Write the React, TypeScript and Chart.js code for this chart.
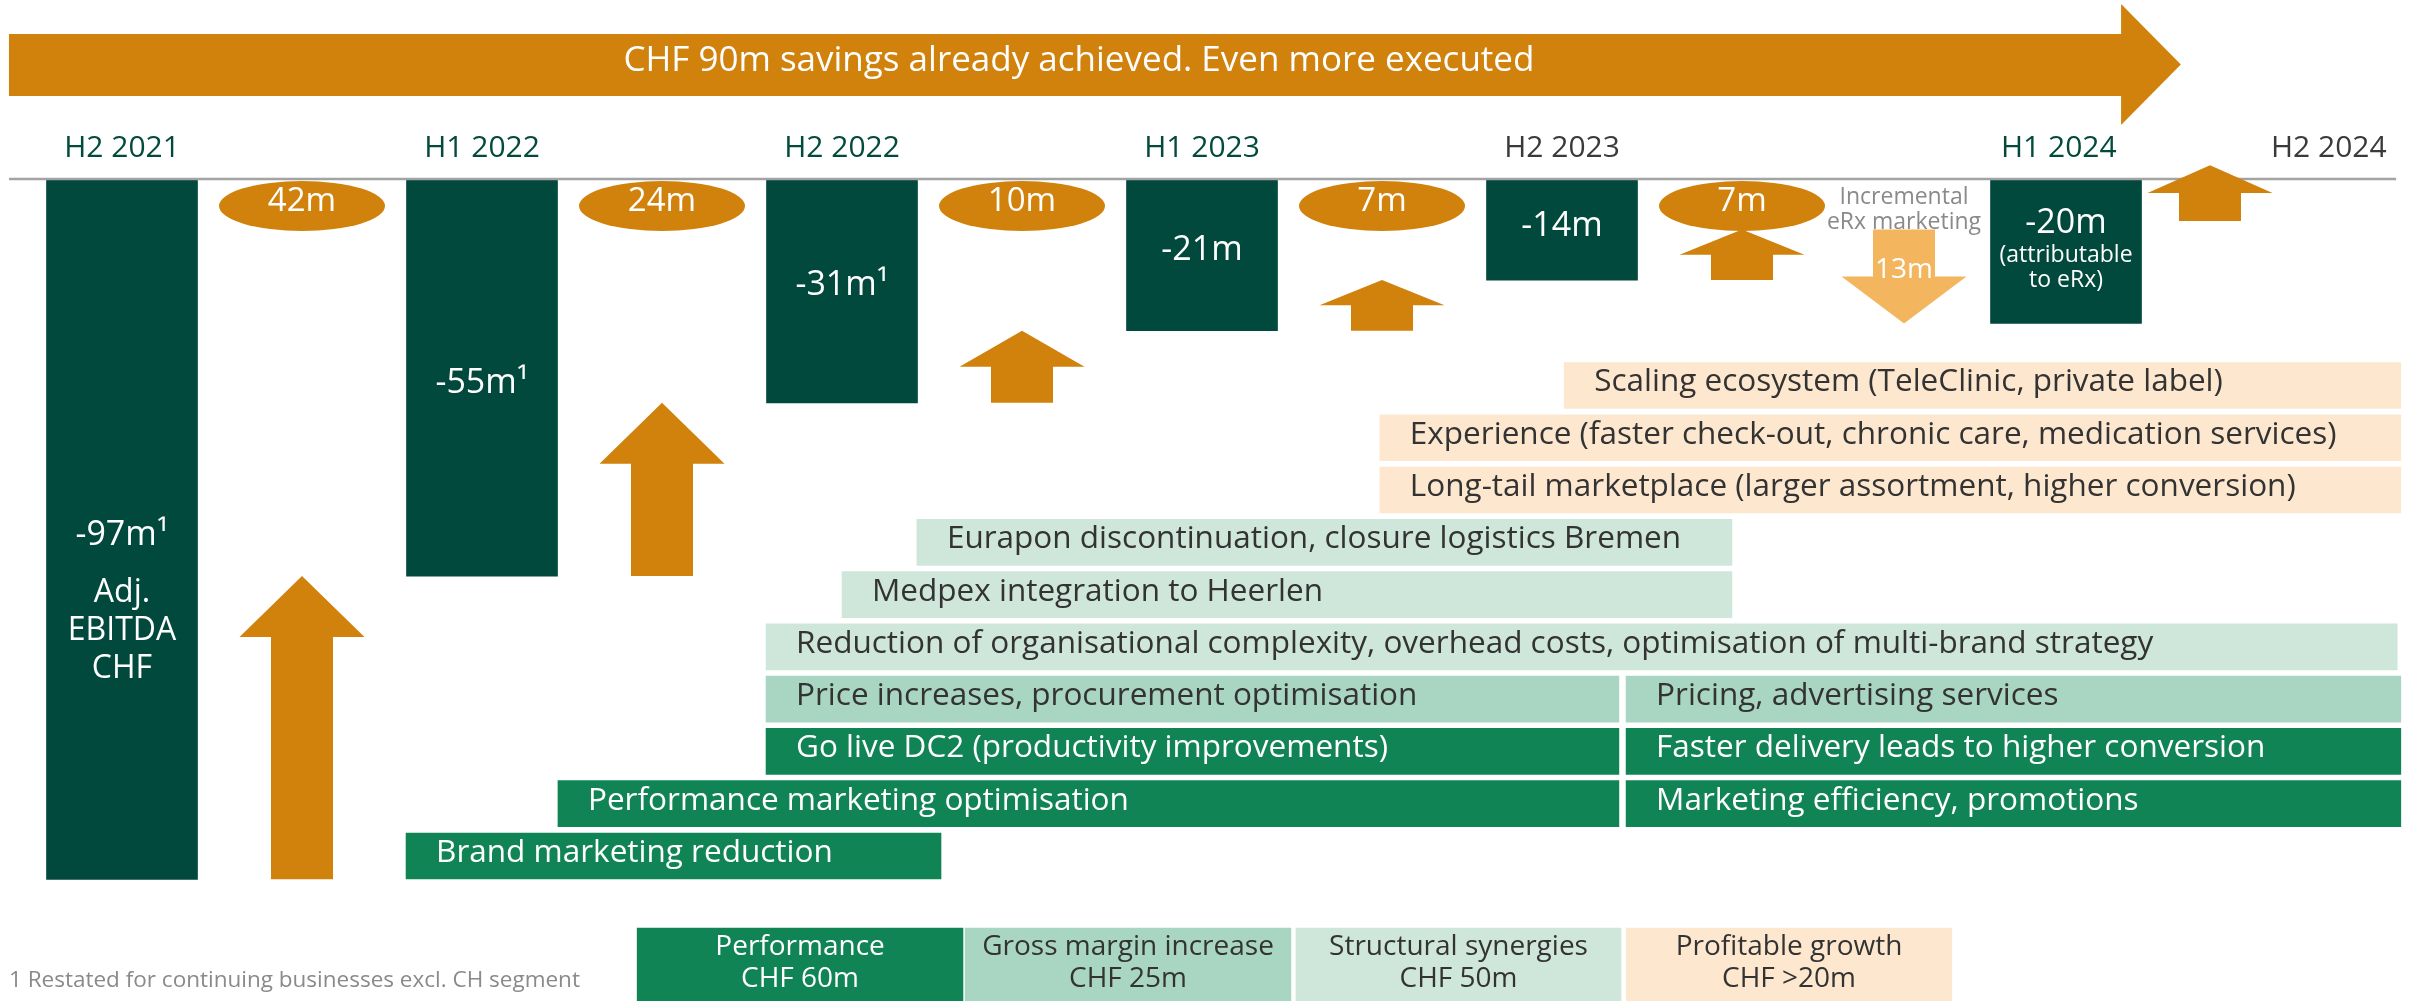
import React, { useEffect, useRef } from "react";
import { Chart, registerables } from "chart.js";

Chart.register(...registerables);

// ---------------- data ----------------
const periods = ["H2 2021", "H1 2022", "H2 2022", "H1 2023", "H2 2023", "H1 2024", "H2 2024"];
const periodPos = [0, 1, 2, 3, 4, 5.38, 6.13];
const periodTone = ["green", "green", "green", "green", "grey", "green", "grey"];

const ebitdaPos = [0, 1, 2, 3, 4, 5.4];
const ebitda = [-97, -55, -31, -21, -14, -20];
const ebitdaLabels = ["-97m\u00B9", "-55m\u00B9", "-31m\u00B9", "-21m", "-14m", "-20m"];
const ebitdaNotes = [["Adj.", "EBITDA", "CHF"], [], [], [], [], ["(attributable", "to eRx)"]];

const savingsPos = [0.5, 1.5, 2.5, 3.5, 4.5];
const savings = [42, 24, 10, 7, 7];
const savingsLabels = ["42m", "24m", "10m", "7m", "7m"];

const erxPos = 4.95;
const erxMarketing = 13;
const erxLabel = "13m";
const erxNote = ["Incremental", "eRx marketing"];

const outlookPos = 5.8;
const outlookRange = [-5.8, 1.9];

const initiativeLabels = [
  "Brand marketing reduction",
  "Performance marketing optimisation",
  "Marketing efficiency, promotions",
  "Go live DC2 (productivity improvements)",
  "Faster delivery leads to higher conversion",
  "Price increases, procurement optimisation",
  "Pricing, advertising services",
  "Reduction of organisational complexity, overhead costs, optimisation of multi-brand strategy",
  "Medpex integration to Heerlen",
  "Eurapon discontinuation, closure logistics Bremen",
  "Long-tail marketplace (larger assortment, higher conversion)",
  "Experience (faster check-out, chronic care, medication services)",
  "Scaling ecosystem (TeleClinic, private label)",
];
const initiativeStart = [0.789, 1.211, 4.178, 1.789, 4.178, 1.789, 4.178, 1.789, 2.0, 2.208, 3.494, 3.494, 4.006];
const initiativeEnd = [2.275, 4.158, 6.33, 4.158, 6.33, 4.158, 6.33, 6.32, 4.472, 4.472, 6.33, 6.33, 6.33];
const initiativeLane = [0, 1, 1, 2, 2, 3, 3, 4, 5, 6, 7, 8, 9];
const initiativeGroup = [0, 0, 0, 0, 0, 1, 1, 2, 2, 2, 3, 3, 3];

const groupNames = ["Performance", "Gross margin increase", "Structural synergies", "Profitable growth"];
const groupValues = ["CHF 60m", "CHF 25m", "CHF 50m", "CHF >20m"];
const groupStart = [1.431, 2.342, 3.261, 4.178];
const groupEnd = [2.336, 3.247, 4.164, 5.083];
const legendLane = -2.075;

const title = "CHF 90m savings already achieved. Even more executed";
const footnote = "1 Restated for continuing businesses excl. CH segment";

// ---------------- style ----------------
const FONT = "'Open Sans', 'DejaVu Sans', sans-serif";
const font = (size: number, weight: string | number = "normal") => `${weight} ${size}px ${FONT}`;

const C = {
  ebitda: "#02493D",
  saving: "#D0820C",
  erx: "#F3B65E",
  axisLine: "#A3A3A3",
  grey: "#8A8A8A",
  periodGreen: "#024A3C",
  periodGrey: "#3A3A3A",
};
const groupColors = ["#118456", "#A9D5C3", "#CFE6DB", "#FDE8CF"];
const groupText = ["#FFFFFF", "#333333", "#333333", "#333333"];

// visible window of the timeline (period units) and of the value / lane axes
const X_MIN = -0.3389;
const X_MAX = 6.3833;
const Y_MIN = -113.85;
const Y_MAX = 1.94;
const LANE_MIN = -2.774;
const LANE_MAX = 16.373;

const barLabelDy = [16, 15, 4, 5, 6.5, -18];
const barNoteStyle = [
  { size: 32, first: 57, gap: 38 },
  null,
  null,
  null,
  null,
  { size: 23, first: 29, gap: 25 },
];

function upArrow(ctx: CanvasRenderingContext2D, cx: number, yBottom: number, yTip: number) {
  const head = Math.min(61, (yBottom - yTip) * 0.5);
  ctx.beginPath();
  ctx.moveTo(cx - 31, yBottom);
  ctx.lineTo(cx - 31, yTip + head);
  ctx.lineTo(cx - 62.5, yTip + head);
  ctx.lineTo(cx, yTip);
  ctx.lineTo(cx + 62.5, yTip + head);
  ctx.lineTo(cx + 31, yTip + head);
  ctx.lineTo(cx + 31, yBottom);
  ctx.closePath();
  ctx.fill();
}

function downArrow(ctx: CanvasRenderingContext2D, cx: number, yTop: number, yTip: number) {
  const head = Math.min(61, (yTip - yTop) * 0.5);
  ctx.beginPath();
  ctx.moveTo(cx - 31, yTop);
  ctx.lineTo(cx - 31, yTip - head);
  ctx.lineTo(cx - 62.5, yTip - head);
  ctx.lineTo(cx, yTip);
  ctx.lineTo(cx + 62.5, yTip - head);
  ctx.lineTo(cx + 31, yTip - head);
  ctx.lineTo(cx + 31, yTop);
  ctx.closePath();
  ctx.fill();
}

// --- plugin for the lower (initiative) chart ---
const initiativePlugin = {
  id: "initiativeLabels",
  beforeDraw(chart: any) {
    const { ctx, width, height } = chart;
    ctx.save();
    ctx.fillStyle = "#FFFFFF";
    ctx.fillRect(0, 0, width, height);
    ctx.restore();
  },
  afterDatasetsDraw(chart: any) {
    const ctx: CanvasRenderingContext2D = chart.ctx;
    ctx.save();
    ctx.textBaseline = "alphabetic";
    chart.getDatasetMeta(0).data.forEach((el: any, i: number) => {
      const left = Math.min(el.x, el.base);
      ctx.fillStyle = groupText[initiativeGroup[i]];
      ctx.textAlign = "left";
      ctx.font = font(31.5);
      ctx.fillText(initiativeLabels[i], left + 30, el.y + 6);
    });
    chart.getDatasetMeta(1).data.forEach((el: any, i: number) => {
      const cx = (el.x + el.base) / 2;
      ctx.fillStyle = groupText[i];
      ctx.textAlign = "center";
      ctx.font = font(28);
      ctx.fillText(groupNames[i], cx, el.y - 9.5);
      ctx.fillText(groupValues[i], cx, el.y + 22.5);
    });
    ctx.restore();
  },
};

// --- plugin for the upper (EBITDA bridge) chart ---
const bridgePlugin = {
  id: "bridgeDecor",
  afterDatasetsDraw(chart: any) {
    const ctx: CanvasRenderingContext2D = chart.ctx;
    const xs = chart.scales.x;
    const ys = chart.scales.y;
    const X = (v: number) => xs.getPixelForValue(v);
    const Y = (v: number) => ys.getPixelForValue(v);
    const zero = Y(0);
    ctx.save();
    ctx.textBaseline = "alphabetic";

    // banner arrow
    const bx0 = X(-0.314);
    const bx1 = X(5.553);
    const btip = X(5.719);
    ctx.fillStyle = C.saving;
    ctx.beginPath();
    ctx.moveTo(bx0, 34);
    ctx.lineTo(bx1, 34);
    ctx.lineTo(bx1, 4);
    ctx.lineTo(btip, 64.5);
    ctx.lineTo(bx1, 125);
    ctx.lineTo(bx1, 96);
    ctx.lineTo(bx0, 96);
    ctx.closePath();
    ctx.fill();
    ctx.fillStyle = "#FFFFFF";
    ctx.font = font(35, 500);
    ctx.textAlign = "center";
    ctx.fillText(title, X(2.658), 71);

    // zero line
    ctx.strokeStyle = C.axisLine;
    ctx.lineWidth = 2.5;
    ctx.beginPath();
    ctx.moveTo(X(-0.314), zero);
    ctx.lineTo(X(6.317), zero);
    ctx.stroke();

    // savings arrows + ellipses
    ctx.fillStyle = C.saving;
    savings.forEach((s, i) => {
      upArrow(ctx, X(savingsPos[i]), Y(ebitda[i]), Y(ebitda[i] + s));
    });
    savings.forEach((_, i) => {
      ctx.fillStyle = C.saving;
      ctx.beginPath();
      ctx.ellipse(X(savingsPos[i]), zero + 27, 83, 25, 0, 0, Math.PI * 2);
      ctx.fill();
      ctx.fillStyle = "#FFFFFF";
      ctx.font = font(33);
      ctx.textAlign = "center";
      ctx.fillText(savingsLabels[i], X(savingsPos[i]), zero + 32);
    });

    // eRx marketing (down arrow)
    const erxTop = ebitda[4] + savings[4];
    const erxTip = Y(erxTop - erxMarketing);
    ctx.fillStyle = C.erx;
    downArrow(ctx, X(erxPos), Y(erxTop), erxTip);
    ctx.fillStyle = "#FFFFFF";
    ctx.font = font(28);
    ctx.textAlign = "center";
    ctx.fillText(erxLabel, X(erxPos), erxTip - 45);
    ctx.fillStyle = C.grey;
    ctx.font = font(23);
    ctx.fillText(erxNote[0], X(erxPos), zero + 25);
    ctx.fillText(erxNote[1], X(erxPos), zero + 50);

    // outlook arrow
    ctx.fillStyle = C.saving;
    upArrow(ctx, X(outlookPos), Y(outlookRange[0]), Y(outlookRange[1]));

    // EBITDA bar labels
    chart.getDatasetMeta(0).data.forEach((el: any, i: number) => {
      const mid = Y(ebitda[i] / 2);
      const base = mid + barLabelDy[i];
      ctx.fillStyle = "#FFFFFF";
      ctx.textAlign = "center";
      ctx.font = font(34);
      ctx.fillText(ebitdaLabels[i], el.x, base);
      const st = barNoteStyle[i];
      if (st) {
        ctx.font = font(st.size);
        ebitdaNotes[i].forEach((n, k) => {
          ctx.fillText(n, el.x, base + st.first + k * st.gap);
        });
      }
    });

    // footnote
    ctx.fillStyle = C.grey;
    ctx.textAlign = "left";
    ctx.font = font(22.5);
    ctx.fillText(footnote, X(-0.314), 987);

    ctx.restore();
  },
};

export default function App() {
  const lowerRef = useRef<HTMLCanvasElement>(null);
  const upperRef = useRef<HTMLCanvasElement>(null);

  useEffect(() => {
    document.body.style.margin = "0";
    if (!lowerRef.current || !upperRef.current) return;

    // lower chart: initiatives (horizontal floating bars) + savings groups
    const lower = new Chart(lowerRef.current, {
      type: "bar",
      data: {
        datasets: [
          {
            label: "Initiatives",
            data: initiativeLabels.map((_, i) => ({
              x: [initiativeStart[i], initiativeEnd[i]],
              y: initiativeLane[i],
            })) as any,
            stack: "h",
            backgroundColor: initiativeGroup.map((g) => groupColors[g]),
            borderWidth: 0,
            barThickness: 46,
          } as any,
          {
            label: "Savings groups",
            data: groupNames.map((_, i) => ({ x: [groupStart[i], groupEnd[i]], y: legendLane })) as any,
            stack: "h",
            backgroundColor: groupColors,
            borderWidth: 0,
            barThickness: 73,
          } as any,
        ],
      },
      options: {
        indexAxis: "y",
        responsive: false,
        devicePixelRatio: 1,
        animation: false,
        events: [],
        layout: { padding: 0 },
        plugins: { legend: { display: false }, tooltip: { enabled: false } },
        scales: {
          x: { type: "linear", display: false, min: X_MIN, max: X_MAX, stacked: false, offset: false },
          y: { type: "linear", display: false, min: LANE_MIN, max: LANE_MAX, offset: false },
        } as any,
      },
      plugins: [initiativePlugin as any],
    });

    // upper chart: adjusted EBITDA bridge
    const upper = new Chart(upperRef.current, {
      type: "bar",
      data: {
        datasets: [
          {
            label: "Adj. EBITDA (CHF m)",
            data: ebitda.map((v, i) => ({ x: ebitdaPos[i], y: [0, v] })) as any,
            backgroundColor: C.ebitda,
            borderWidth: 0,
            barThickness: 151,
          } as any,
        ],
      },
      options: {
        responsive: false,
        devicePixelRatio: 1,
        animation: false,
        events: [],
        layout: { padding: 0 },
        plugins: { legend: { display: false }, tooltip: { enabled: false } },
        scales: {
          x: {
            type: "linear",
            position: "top",
            min: X_MIN,
            max: X_MAX,
            offset: false,
            grid: { display: false, drawTicks: false },
            border: { display: false },
            ticks: {
              autoSkip: false,
              maxRotation: 0,
              minRotation: 0,
              padding: 2,
              font: { family: FONT, size: 30, lineHeight: 1 },
              color: (ctx: any) => (periodTone[ctx.index] === "green" ? C.periodGreen : C.periodGrey),
              callback: (_v: any, i: number) => periods[i],
            },
            afterBuildTicks: (scale: any) => {
              scale.ticks = periodPos.map((v) => ({ value: v }));
            },
            afterFit: (scale: any) => {
              scale.height = 165;
            },
          },
          y: { type: "linear", display: false, min: Y_MIN, max: Y_MAX },
        } as any,
      },
      plugins: [bridgePlugin as any],
    });

    return () => {
      upper.destroy();
      lower.destroy();
    };
  }, []);

  const layer: React.CSSProperties = { position: "absolute", left: 0, top: 0, display: "block" };
  return (
    <div style={{ position: "relative", width: 2420, height: 1001 }}>
      <canvas ref={lowerRef} width={2420} height={1001} style={layer} />
      <canvas ref={upperRef} width={2420} height={1001} style={layer} />
    </div>
  );
}
